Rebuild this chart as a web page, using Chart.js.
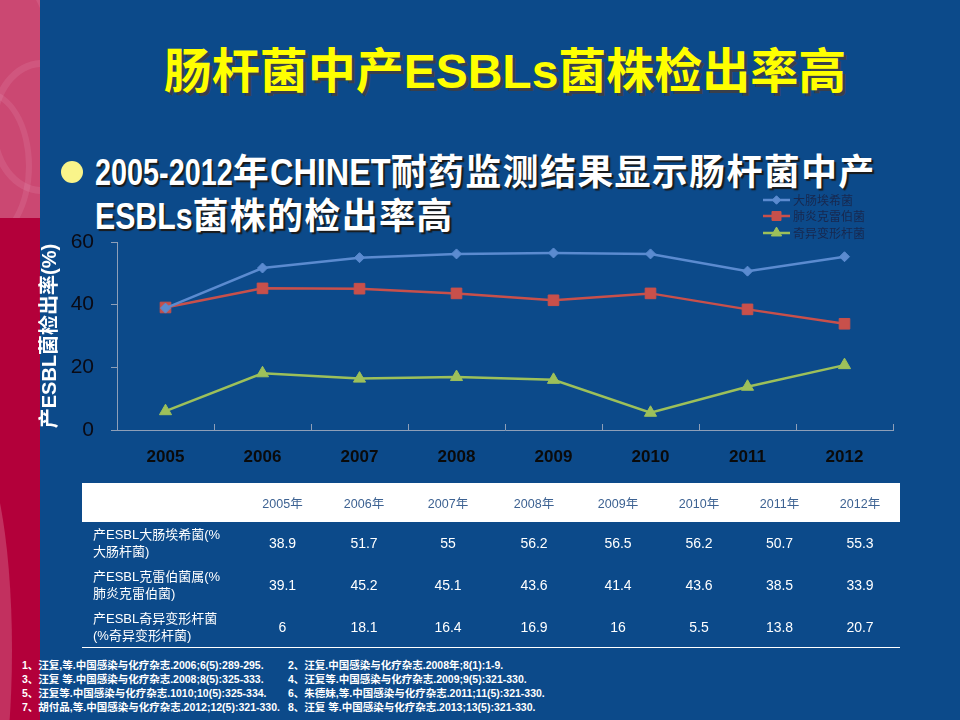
<!DOCTYPE html>
<html><head><meta charset="utf-8">
<script src="https://cdn.jsdelivr.net/npm/chart.js@4.4.0/dist/chart.umd.min.js"></script>
<style>
html,body{margin:0;padding:0;}
body{width:960px;height:720px;position:relative;overflow:hidden;background:#0C4A8A;font-family:"Liberation Sans","Noto Sans CJK SC",sans-serif;}
.strip{position:absolute;left:0;top:0;width:40px;height:720px;background:#B3003A;overflow:hidden;}
.pinktop{position:absolute;left:0;top:0;width:40px;height:218px;background:#CB4872;overflow:hidden;}
.arc{position:absolute;border-radius:50%;border-style:solid;border-color:rgba(255,220,232,0.10);}
.sliver{position:absolute;border-radius:50%;background:#C2305F;}
.title{position:absolute;left:40px;width:930px;top:41px;text-align:center;font:bold 48px/62px "Liberation Sans","Noto Sans CJK SC",sans-serif;color:#FFFF00;text-shadow:3px 3px 0 #3a3f4a;white-space:nowrap;}
.bullet{position:absolute;left:61px;top:161px;width:22px;height:22px;border-radius:50%;background:#F9F48A;}
.btext{position:absolute;left:95px;top:149px;font:bold 36px/41px "Liberation Sans","Noto Sans CJK SC",sans-serif;color:#fff;text-shadow:2px 2px 1px #1a1a1a;white-space:nowrap;}
.btext .cjk{font-family:"Noto Sans CJK SC",sans-serif;letter-spacing:1.3px;}
.btext .lat{display:inline-block;transform-origin:0 50%;}
canvas#c{position:absolute;left:30px;top:185px;}
table.t{position:absolute;left:82px;top:483px;width:818px;border-collapse:collapse;table-layout:fixed;color:#fff;}
table.t td{padding:0;text-align:center;font:14px "Liberation Sans","Noto Sans CJK SC",sans-serif;}
table.t tr.h td{background:#fff;color:#3D6292;height:39px;font-size:12.5px;}
table.t tr.r td{height:42px;}
table.t tr.r td.lab{text-align:left;padding-left:11px;font-size:13px;line-height:17px;}
table.t tr.last td{border-bottom:1.5px solid #fff;height:41px;}
.fn{position:absolute;font:bold 10.5px/13px "Liberation Sans","Noto Sans CJK SC",sans-serif;color:#fff;white-space:nowrap;}
</style></head><body>
<div class="strip">
  <div class="pinktop">
    <div class="arc" style="left:-70px;top:-40px;width:120px;height:300px;border-width:10px;"></div>
    <div class="arc" style="left:-10px;top:60px;width:90px;height:120px;border-width:7px;"></div>
    <div class="arc" style="left:-60px;top:90px;width:80px;height:140px;border-width:6px;"></div>
  </div>
  <div class="sliver" style="left:-72px;top:440px;width:84px;height:420px;"></div>
</div>
<div class="title" id="title"></div>
<div class="bullet"></div>
<div class="btext" id="btext"></div>
<canvas id="c" width="890" height="300" style="width:890px;height:300px;"></canvas>
<table class="t" id="tbl"></table>
<div id="fns"></div>
<script>
// ---- data ----
const years = ['2005','2006','2007','2008','2009','2010','2011','2012'];
const seriesNames = ['大肠埃希菌','肺炎克雷伯菌','奇异变形杆菌'];
const ecoliValues = [38.9,51.7,55,56.2,56.5,56.2,50.7,55.3];
const klebValues = [39.1,45.2,45.1,43.6,41.4,43.6,38.5,33.9];
const proteusValues = [6,18.1,16.4,16.9,16,5.5,13.8,20.7];
const yTicks = [0,20,40,60];
const rowLabels = ['产ESBL大肠埃希菌(%<br>大肠杆菌)','产ESBL克雷伯菌属(%<br>肺炎克雷伯菌)','产ESBL奇异变形杆菌<br>(%奇异变形杆菌)'];
const yearSuffix = '年';
const titleText = '肠杆菌中产ESBLs菌株检出率高';
const yAxisTitle = '产ESBL菌检出率(%)';
const footnotesLeft = [
 '1、汪复,等.中国感染与化疗杂志.2006;6(5):289-295.',
 '3、汪复 等.中国感染与化疗杂志.2008;8(5):325-333.',
 '5、汪复等.中国感染与化疗杂志.1010;10(5):325-334.',
 '7、胡付品,等.中国感染与化疗杂志.2012;12(5):321-330.'
];
const footnotesRight = [
 '2、汪复.中国感染与化疗杂志.2008年;8(1):1-9.',
 '4、汪复等.中国感染与化疗杂志.2009;9(5):321-330.',
 '6、朱德妹,等.中国感染与化疗杂志.2011;11(5):321-330.',
 '8、汪复 等.中国感染与化疗杂志.2013;13(5):321-330.'
];

// ---- texts ----
document.getElementById('title').textContent = titleText;
document.getElementById('btext').innerHTML = '<span class="lat" data-s="0.8">2005-2012</span><span class="cjk">年</span><span class="lat" data-s="0.9">CHINET</span><span class="cjk">耐药监测结果显示肠杆菌中产</span><br><span class="lat" data-s="0.84">ESBLs</span><span class="cjk">菌株的检出率高</span>';
document.querySelectorAll('.btext .lat').forEach(el=>{
  const s = parseFloat(el.dataset.s);
  const w = el.offsetWidth;
  el.style.transform = 'scaleX('+s+')';
  el.style.marginRight = (-w*(1-s)).toFixed(1)+'px';
});

// ---- table ----
(function(){
  const widths = [160,81,82,86,86,82,80,81,80];
  const tbl = document.getElementById('tbl');
  let html = '<colgroup>' + widths.map(w=>'<col style="width:'+w+'px">').join('') + '</colgroup>';
  html += '<tr class="h"><td></td>' + years.map(y=>'<td>'+y+yearSuffix+'</td>').join('') + '</tr>';
  const vals = [ecoliValues, klebValues, proteusValues];
  vals.forEach((arr,i)=>{
    html += '<tr class="r'+(i===vals.length-1?' last':'')+'"><td class="lab">'+rowLabels[i]+'</td>' + arr.map(v=>'<td>'+v+'</td>').join('') + '</tr>';
  });
  tbl.innerHTML = html;
})();

// ---- footnotes ----
(function(){
  const box = document.getElementById('fns');
  const tops = [659,673,687,701];
  footnotesLeft.forEach((t,i)=>{
    const d=document.createElement('div'); d.className='fn'; d.style.left='22px'; d.style.top=tops[i]+'px'; d.textContent=t; box.appendChild(d);
  });
  footnotesRight.forEach((t,i)=>{
    const d=document.createElement('div'); d.className='fn'; d.style.left='288px'; d.style.top=tops[i]+'px'; d.textContent=t; box.appendChild(d);
  });
})();

// ---- chart ----
const axisColor = '#8E9FB8';
const colors = ['#5B8BD0','#C8504B','#9DC05A'];
const styles = ['rectRot','rect','triangle'];
const radii = [5,7.5,7];

const decor = {
  id:'decor',
  afterDraw(chart){
    const ctx = chart.ctx, a = chart.chartArea, x = chart.scales.x;
    const n = x.ticks.length;
    const step = a.width / n;
    ctx.save();
    ctx.strokeStyle = axisColor; ctx.lineWidth = 1;
    for(let i=0;i<=n;i++){
      const px = Math.round(a.left + i*step)+0.5;
      ctx.beginPath(); ctx.moveTo(px, a.bottom-6); ctx.lineTo(px, a.bottom); ctx.stroke();
    }
    // legend
    const lx = 733, lw = 27, tx = 763;
    const rows = [15, 31, 48];
    chart.data.datasets.forEach((ds,i)=>{
      const y = rows[i];
      ctx.strokeStyle = ds.borderColor; ctx.lineWidth = 2.5;
      ctx.beginPath(); ctx.moveTo(lx, y); ctx.lineTo(lx+lw, y); ctx.stroke();
      ctx.fillStyle = ds.backgroundColor; ctx.strokeStyle = ds.borderColor; ctx.lineWidth = 1;
      Chart.helpers.drawPoint(ctx, {pointStyle: ds.pointStyle, rotation:0, radius: ds.pointRadius*0.85, borderWidth:1}, lx+lw/2, y);
      ctx.fillStyle = '#18284E';
      ctx.font = '12px "Noto Sans CJK SC", sans-serif';
      ctx.textBaseline = 'middle'; ctx.textAlign='left';
      ctx.fillText(ds.label, tx, y);
    });
    ctx.restore();
  }
};

new Chart(document.getElementById('c'), {
  type:'line',
  data:{
    labels: years,
    datasets: [ecoliValues, klebValues, proteusValues].map((d,i)=>({
      label: seriesNames[i], data: d,
      borderColor: colors[i], backgroundColor: colors[i],
      pointStyle: styles[i], pointRadius: radii[i], pointHoverRadius: radii[i],
      pointBorderWidth: 1, borderWidth: 2.5, tension: 0, fill:false
    }))
  },
  options:{
    responsive:false, animation:false, devicePixelRatio: 1,
    layout:{padding:{top:57,right:27,bottom:15,left:0}},
    plugins:{legend:{display:false}, tooltip:{enabled:false}},
    scales:{
      x:{
        offset:true,
        grid:{display:true, drawOnChartArea:false, drawTicks:false, color:axisColor},
        border:{display:true, color:axisColor, width:1},
        ticks:{color:'#0A0A0A', padding:17, font:{family:'"Liberation Sans", Arial, sans-serif', size:17, weight:'bold'}},
        afterFit(s){ s.height = 40; }
      },
      y:{
        min:0, max:60,
        afterBuildTicks(s){ s.ticks = yTicks.map(v=>({value:v})); },
        grid:{display:true, drawOnChartArea:false, drawTicks:true, tickLength:6, color:axisColor},
        border:{display:true, color:axisColor, width:1},
        ticks:{color:'#0A0A14', padding:17, font:{family:'"Liberation Sans", Arial, sans-serif', size:21}},
        title:{display:true, text:yAxisTitle, color:'#FFFFFF', padding:{top:8,bottom:0}, font:{family:'"Liberation Sans","Noto Sans CJK SC", sans-serif', size:20, weight:'bold'}},
        afterFit(s){ s.width = 87; }
      }
    }
  },
  plugins:[decor]
});
</script>
</body></html>
